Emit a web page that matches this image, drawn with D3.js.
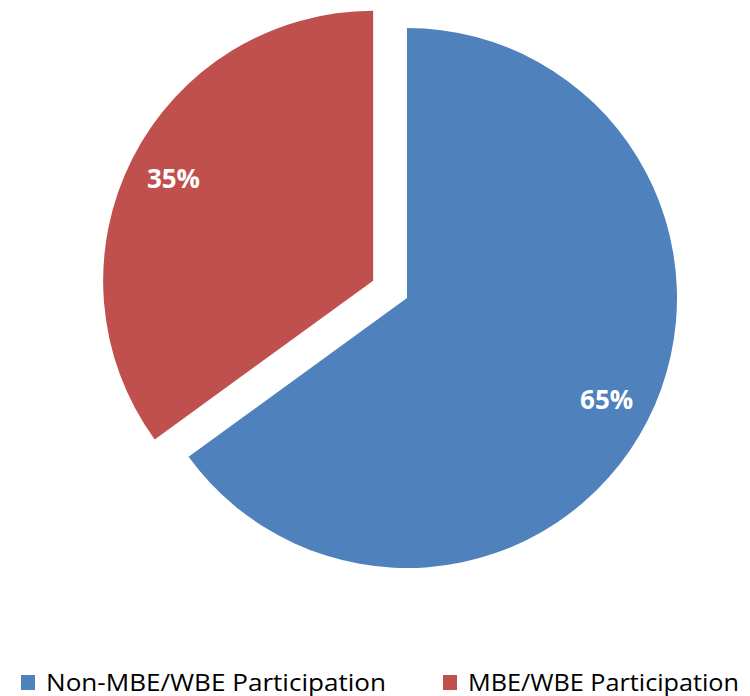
<!DOCTYPE html>
<html>
<head>
<meta charset="utf-8">
<script src="https://cdn.jsdelivr.net/npm/d3@7"></script>
<style>
  body { margin: 0; background: #fff; }
  svg { display: block; }
</style>
</head>
<body>
<div id="chart"></div>
<script>
// chart data
var categories = ["Non-MBE/WBE Participation", "MBE/WBE Participation"];
var values = [65, 35];
var colors = ["#4F81BD", "#C0504D"];
var exploded = [0, 38];

var width = 750, height = 696;
var cx = 407, cy = 298, radius = 270;

var svg = d3.select("#chart")
  .append("svg")
    .attr("width", width)
    .attr("height", height);

var data = categories.map(function(c, i) {
  return { name: c, value: values[i], color: colors[i], offset: exploded[i] };
});

var total = d3.sum(values);

var pie = d3.pie()
  .sort(null)
  .value(function(d) { return d.value; });

var arc = d3.arc()
  .innerRadius(0)
  .outerRadius(radius);

var arcs = pie(data);

var g = svg.append("g")
  .attr("transform", "translate(" + cx + "," + cy + ")");

var slice = g.selectAll("g.slice")
  .data(arcs)
  .enter()
  .append("g")
    .attr("class", "slice")
    .attr("transform", function(d) {
      var a = (d.startAngle + d.endAngle) / 2;
      var o = d.data.offset;
      return "translate(" + (Math.sin(a) * o) + "," + (-Math.cos(a) * o) + ")";
    });

slice.append("path")
  .attr("d", arc)
  .style("fill", function(d) { return d.data.color; });

// percent labels
var labelR = radius * 0.83;
slice.append("text")
  .attr("x", function(d) {
    var a = (d.startAngle + d.endAngle) / 2;
    return Math.sin(a) * labelR;
  })
  .attr("y", function(d) {
    var a = (d.startAngle + d.endAngle) / 2;
    return -Math.cos(a) * labelR;
  })
  .attr("dy", 9)
  .attr("text-anchor", "middle")
  .style("font-family", "'Open Sans', sans-serif")
  .style("font-weight", "bold")
  .style("font-size", "26px")
  .style("fill", "#fff")
  .text(function(d) { return Math.round(d.data.value / total * 100) + "%"; });

// legend
var legendX = [21, 443];
var legendW = [340, 271];
var legend = svg.selectAll("g.legend")
  .data(data)
  .enter()
  .append("g")
    .attr("class", "legend")
    .attr("transform", function(d, i) { return "translate(" + legendX[i] + ",675)"; });

legend.append("rect")
  .attr("width", 14)
  .attr("height", 15)
  .style("fill", function(d) { return d.color; });

legend.append("text")
  .attr("x", 25)
  .attr("y", 16)
  .attr("textLength", function(d, i) { return legendW[i]; })
  .attr("lengthAdjust", "spacingAndGlyphs")
  .style("font-family", "'Open Sans', sans-serif")
  .style("font-size", "24px")
  .style("fill", "#000")
  .text(function(d) { return d.name; });
</script>
</body>
</html>
